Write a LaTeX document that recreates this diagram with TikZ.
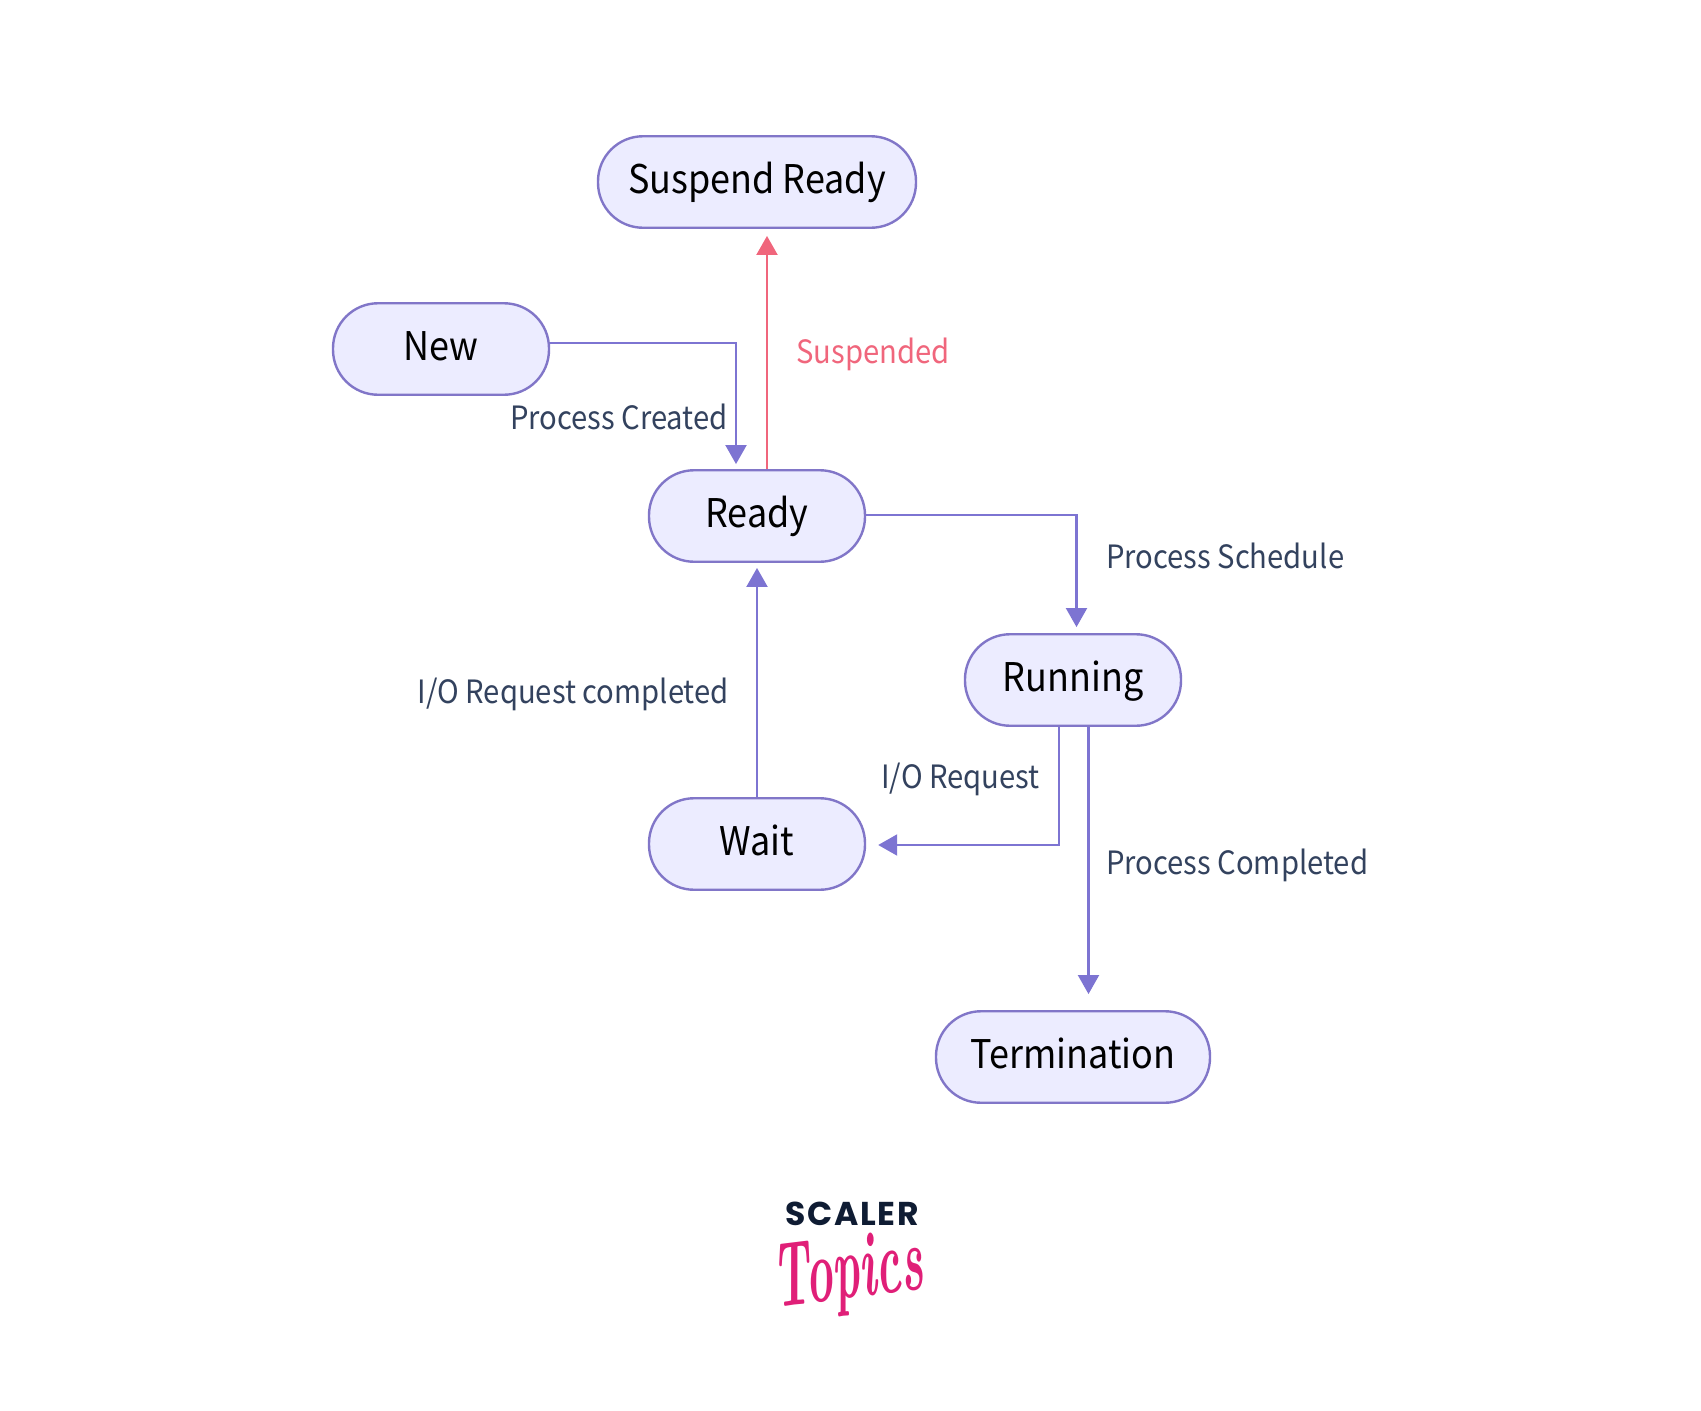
\documentclass[tikz,border=0pt]{standalone}
\usepackage{fontspec}
\usetikzlibrary{arrows.meta}
\setmainfont[FakeStretch=0.91]{Noto Sans CJK SC}
\newfontfamily\logofont[LetterSpace=5.5]{Poppins}
\newfontfamily\topicsfont[FakeStretch=0.5]{Latin Modern Roman}
\definecolor{stateline}{HTML}{8176C8}
\definecolor{statefill}{HTML}{ECECFF}
\definecolor{flowline}{HTML}{7D74D2}
\definecolor{flowtext}{HTML}{33425E}
\definecolor{suspendred}{HTML}{F0667C}
\definecolor{logonavy}{HTML}{0F1C33}
\definecolor{logopink}{HTML}{E01F78}
\tikzset{
  statenode/.style={draw=stateline,fill=statefill,line width=2.4pt,rounded corners=45pt,minimum height=91.5pt,inner sep=0pt,text height=30pt,text depth=8pt,text=black,font=\fontsize{39.5}{39.5}\selectfont},
  flowlabel/.style={inner sep=0pt,text=flowtext,font=\fontsize{32.1}{32.1}\selectfont},
  flow/.style={draw=flowline,line width=2.1pt,-{Triangle[length=19pt,width=21pt]}},
}
\begin{document}
\begin{tikzpicture}[x=1pt,y=-1pt]
  \useasboundingbox (0,0) rectangle (1701,1411);
  \node (suspendready) at (757,182)[statenode,minimum width=318pt]{Suspend Ready};
  \node (new) at (441,349)[statenode,minimum width=216pt]{New};
  \node (ready) at (757,516)[statenode,minimum width=216pt]{Ready};
  \node (running) at (1073,680)[statenode,minimum width=216pt]{Running};
  \node (wait) at (757,844)[statenode,minimum width=216pt]{Wait};
  \node (termination) at (1073,1057)[statenode,minimum width=274pt]{Termination};

  \node (suspended) at (796,354)[flowlabel,anchor=west,text=suspendred]{Suspended};
  \node (created) at (728,417)[flowlabel,anchor=east]{Process Created};
  \node (schedule) at (1106,556)[flowlabel,anchor=west]{Process Schedule};
  \node (completed) at (729,694)[flowlabel,anchor=east]{I/O Request completed};
  \node (iorequest) at (1040,779)[flowlabel,anchor=east]{I/O Request};
  \node (finished) at (1106,865)[flowlabel,anchor=west]{Process Completed};

  \draw[flow] ([yshift=6pt]new.east) -| ([xshift=-21pt,yshift=5pt]ready.north);
  \draw[flow,draw=suspendred] ([xshift=10pt]ready.north) -- ([xshift=10pt,yshift=-7pt]suspendready.south);
  \draw[flow] ([yshift=1pt]ready.east) -| ([xshift=3.5pt,yshift=6pt]running.north);
  \draw[flow] (wait.north) -- ([yshift=-5pt]ready.south);
  \draw[flow] ([xshift=-14pt]running.south) |- ([xshift=12pt,yshift=-1pt]wait.east);
  \draw[flow] ([xshift=15.5pt]running.south) -- ([xshift=15.5pt,yshift=16pt]termination.north);

  \node (scaler) at (852,1214)[inner sep=0pt,text=logonavy,font=\logofont\fontsize{33}{33}\selectfont\bfseries]{SCALER};
  \node (topics) at (848,1276)[inner sep=0pt,rotate=7,text=logopink,font=\topicsfont\fontsize{92}{92}\selectfont\bfseries\itshape]{Topics};
\end{tikzpicture}
\end{document}
